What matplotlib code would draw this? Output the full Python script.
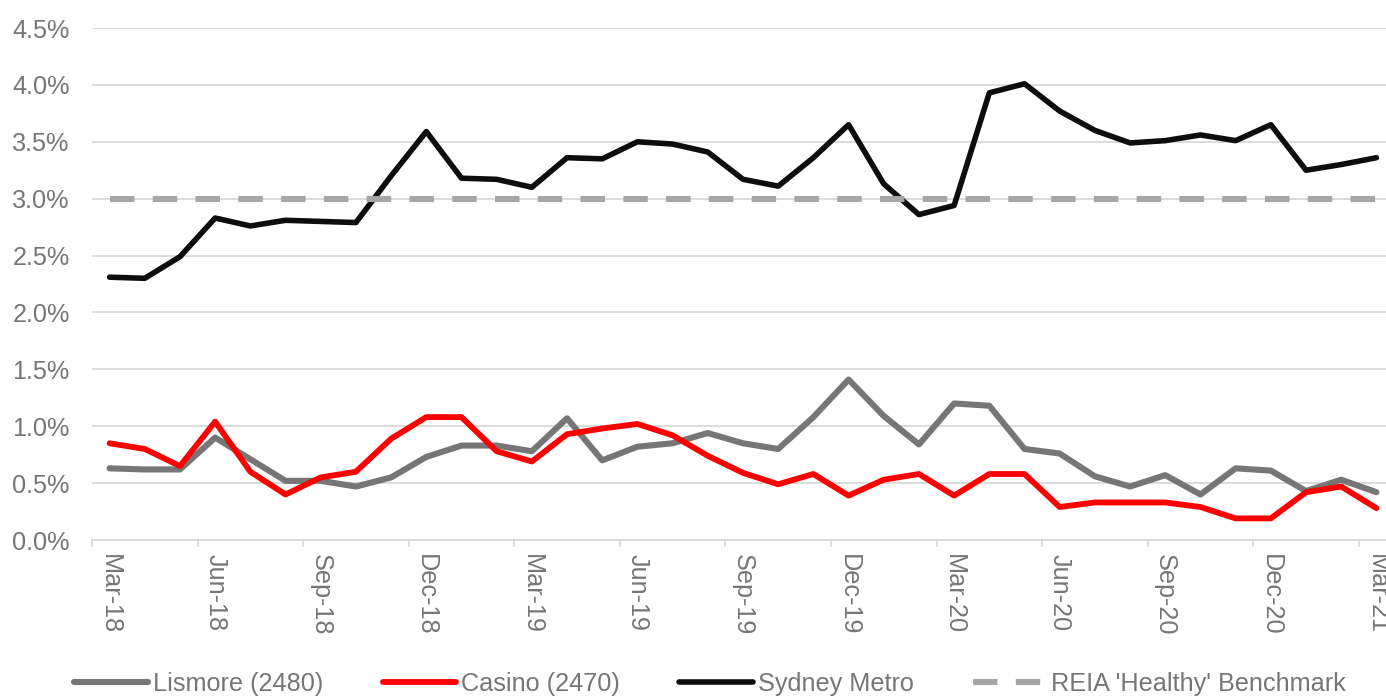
import pandas as pd
import matplotlib
matplotlib.use('Agg')
import matplotlib.pyplot as plt
from matplotlib.ticker import FixedLocator, FuncFormatter

plt.rcParams['font.family'] = ['Liberation Sans', 'DejaVu Sans']

# Monthly vacancy rates (%), Mar-18 .. Mar-21
months = pd.date_range('2018-03-01', '2021-03-01', freq='MS')
month_labels = [d.strftime('%b-%y') for d in months]

lismore = [0.63, 0.62, 0.62, 0.90, 0.71, 0.52, 0.52, 0.47, 0.55, 0.73,
           0.83, 0.83, 0.78, 1.07, 0.70, 0.82, 0.85, 0.94, 0.85, 0.80,
           1.08, 1.41, 1.09, 0.84, 1.20, 1.18, 0.80, 0.76, 0.56, 0.47,
           0.57, 0.40, 0.63, 0.61, 0.43, 0.53, 0.42]
casino = [0.85, 0.80, 0.65, 1.04, 0.60, 0.40, 0.55, 0.60, 0.89, 1.08,
          1.08, 0.78, 0.69, 0.93, 0.98, 1.02, 0.92, 0.74, 0.59, 0.49,
          0.58, 0.39, 0.53, 0.58, 0.39, 0.58, 0.58, 0.29, 0.33, 0.33,
          0.33, 0.29, 0.19, 0.19, 0.42, 0.47, 0.28]
sydney = [2.31, 2.30, 2.49, 2.83, 2.76, 2.81, 2.80, 2.79, 3.20, 3.59,
          3.18, 3.17, 3.10, 3.36, 3.35, 3.50, 3.48, 3.41, 3.17, 3.11,
          3.36, 3.65, 3.13, 2.86, 2.94, 3.93, 4.01, 3.77, 3.60, 3.49,
          3.51, 3.56, 3.51, 3.65, 3.25, 3.30, 3.36]
benchmark = [3.0] * len(months)

text_grey = '#767676'
grid_grey = '#d9d9d9'
fs = 18.2

fig = plt.figure(figsize=(13.86, 6.98), dpi=100)
ax = fig.add_axes([92 / 1386, 158 / 698, 1302 / 1386, 512 / 698])

x = list(range(len(months)))
common = dict(solid_joinstyle='round', solid_capstyle='round')
ax.plot(x, lismore, color='#767676', lw=4.4, label='Lismore (2480)', **common)
ax.plot(x, casino, color='#ff0000', lw=4.2, label='Casino (2470)', **common)
ax.plot(x, sydney, color='#0d0d0d', lw=4.0, label='Sydney Metro', **common)
ax.plot(x, benchmark, color='#a6a6a6', lw=4.4, linestyle=(0, (4, 3)),
        dash_capstyle='butt', label="REIA 'Healthy' Benchmark")

ax.set_xlim(-0.5, len(months) - 0.5)
ax.set_ylim(0, 4.5)
ax.set_yticks([i * 0.5 for i in range(10)])
ax.yaxis.set_major_formatter(FuncFormatter(lambda v, p: f'{v:.1f}%'))
ax.grid(axis='y', color=grid_grey, lw=1.3)
ax.set_axisbelow(True)

ax.xaxis.set_major_locator(FixedLocator(x[::3]))
ax.set_xticklabels(month_labels[::3], rotation=-90)
ax.xaxis.set_minor_locator(FixedLocator([i - 0.5 for i in x[::3]]))

for s in ['top', 'right', 'left']:
    ax.spines[s].set_visible(False)
ax.spines['bottom'].set_color(grid_grey)
ax.spines['bottom'].set_linewidth(1.3)

ax.tick_params(axis='y', length=0, pad=16, labelsize=fs, labelcolor=text_grey)
ax.tick_params(axis='x', which='major', length=0, pad=10, labelsize=fs,
               labelcolor=text_grey)
ax.tick_params(axis='x', which='minor', length=5, width=1.3, color=grid_grey)

fig.legend(loc='lower center', bbox_to_anchor=(0.5125, -0.03), ncol=4,
           frameon=False, fontsize=fs, labelcolor=text_grey,
           handlelength=2.9, handletextpad=0.2, columnspacing=2.35)

fig.savefig('out.png', dpi=100)
